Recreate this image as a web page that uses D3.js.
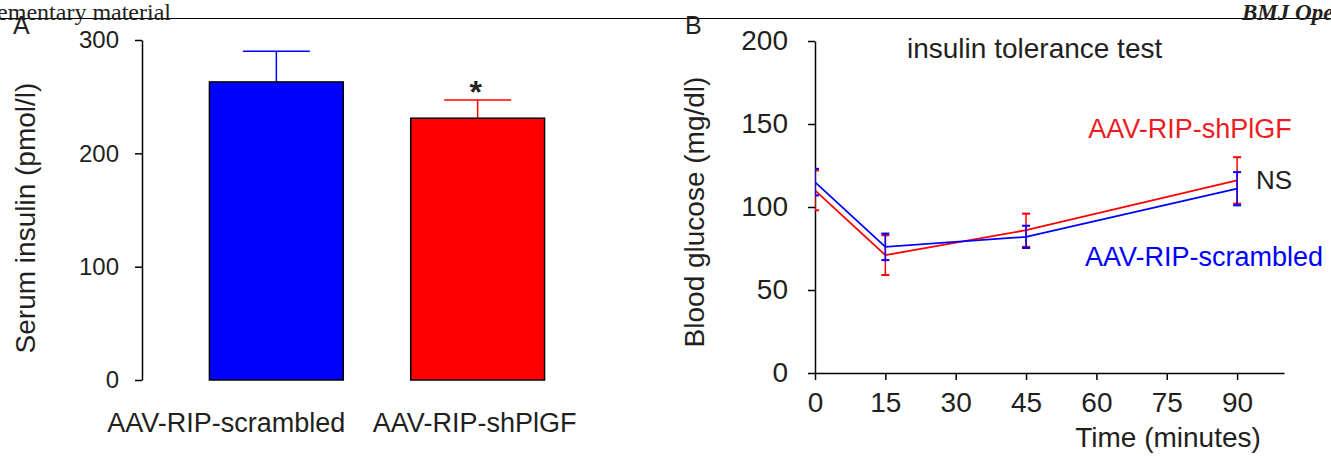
<!DOCTYPE html>
<html>
<head>
<meta charset="utf-8">
<script src="https://cdn.jsdelivr.net/npm/d3@7"></script>
<style>
  body { margin: 0; background: #fff; }
  svg { display: block; font-family: "Liberation Sans", Arial, sans-serif; }
</style>
</head>
<body>
<svg id="chart" width="1331" height="458"></svg>
<script>
// Panel A: serum insulin bars
const groups = ["AAV-RIP-scrambled", "AAV-RIP-shPlGF"];
const insulinMean = [263, 231];
const insulinErr = [27, 16];
const insulinTicks = [0, 100, 200, 300];
const groupColors = ["#0000ff", "#ff0000"];

// Panel B: insulin tolerance test
const timePoints = [0, 15, 45, 90];
const scrambledMean = [115, 76, 82, 111];
const scrambledErr = [8, 8, 6.7, 10];
const shPlGFMean = [110, 71, 86, 116];
const shPlGFErr = [12, 12, 10, 14];
const timeTicks = [0, 15, 30, 45, 60, 75, 90];
const glucoseTicks = [0, 50, 100, 150, 200];

const ink = "#231f20";
const svg = d3.select("#chart");

// page header (cropped by the page edges, as in the source)
svg.append("line")
  .attr("x1", 0).attr("x2", 1331).attr("y1", 18.5).attr("y2", 18.5)
  .attr("stroke", "#000").attr("stroke-width", 1);
svg.append("text")
  .attr("x", 171).attr("y", 20).attr("text-anchor", "end")
  .attr("font-family", "Liberation Serif, serif").attr("font-size", 24)
  .attr("fill", ink).text("Supplementary material");
svg.append("text")
  .attr("x", 1242).attr("y", 20)
  .attr("font-family", "Liberation Serif, serif").attr("font-size", 23)
  .attr("font-style", "italic").attr("font-weight", "bold")
  .attr("fill", ink).text("BMJ Open");

// ---------- Panel A ----------
const yA = d3.scaleLinear().domain([0, 300]).range([380, 40]);
const xA = d3.scaleBand().domain(groups).range([142, 612]).padding(0.335);

const gA = svg.append("g");
gA.append("g")
  .attr("transform", "translate(142,0)")
  .call(d3.axisLeft(yA).tickValues(insulinTicks).tickSize(7).tickPadding(16).tickSizeOuter(0))
  .call(g => g.selectAll("line, path").attr("stroke", "#000").attr("stroke-width", 1.5))
  .call(g => g.selectAll("text").attr("font-size", 24).attr("fill", ink)
    .attr("font-family", "Liberation Sans, Arial, sans-serif"));

const barData = groups.map((g, i) => ({ g, mean: insulinMean[i], err: insulinErr[i], color: groupColors[i] }));

gA.selectAll(".errA").data(barData).enter().append("g")
  .each(function(d) {
    const cx = xA(d.g) + xA.bandwidth() / 2;
    const sel = d3.select(this);
    sel.append("line").attr("x1", cx).attr("x2", cx)
      .attr("y1", yA(d.mean)).attr("y2", yA(d.mean + d.err))
      .attr("stroke", d.color).attr("stroke-width", 1.5);
    sel.append("line").attr("x1", cx - xA.bandwidth() / 4).attr("x2", cx + xA.bandwidth() / 4)
      .attr("y1", yA(d.mean + d.err)).attr("y2", yA(d.mean + d.err))
      .attr("stroke", d.color).attr("stroke-width", 1.5);
  });

gA.selectAll(".bar").data(barData).enter().append("rect")
  .attr("x", d => xA(d.g))
  .attr("y", d => yA(d.mean))
  .attr("width", xA.bandwidth())
  .attr("height", d => yA(0) - yA(d.mean))
  .attr("fill", d => d.color)
  .attr("stroke", "#000").attr("stroke-width", 1.5);

// significance star on shPlGF bar
gA.append("text")
  .attr("x", xA(groups[1]) + xA.bandwidth() / 2 - 2)
  .attr("y", yA(insulinMean[1] + insulinErr[1]) + 3)
  .attr("text-anchor", "middle").attr("font-size", 32).attr("font-weight", "bold")
  .attr("fill", ink).text("*");

const labelShift = [-50, -3];
gA.selectAll(".catA").data(groups).enter().append("text")
  .attr("x", (d, i) => xA(d) + xA.bandwidth() / 2 + labelShift[i])
  .attr("y", 432)
  .attr("text-anchor", "middle").attr("font-size", 27).attr("fill", ink)
  .text(d => d);

gA.append("text")
  .attr("transform", "translate(35,218) rotate(-90)")
  .attr("text-anchor", "middle").attr("font-size", 28).attr("fill", ink)
  .text("Serum insulin (pmol/l)");

svg.append("text").attr("x", 13).attr("y", 34).attr("font-size", 25).attr("fill", ink).text("A");

// ---------- Panel B ----------
const xB = d3.scaleLinear().domain([0, 100]).range([815, 1284]);
const yB = d3.scaleLinear().domain([0, 200]).range([373, 41]);

const gB = svg.append("g");
gB.append("g")
  .attr("transform", "translate(0,373)")
  .call(d3.axisBottom(xB).tickValues(timeTicks).tickSize(7).tickPadding(12).tickSizeOuter(0))
  .call(g => g.selectAll("line, path").attr("stroke", "#000").attr("stroke-width", 1.5))
  .call(g => g.selectAll("text").attr("font-size", 28).attr("fill", ink)
    .attr("font-family", "Liberation Sans, Arial, sans-serif"));

gB.append("g")
  .attr("transform", "translate(815,0)")
  .call(d3.axisLeft(yB).tickValues(glucoseTicks).tickSize(7).tickPadding(20).tickSizeOuter(0))
  .call(g => g.selectAll("line, path").attr("stroke", "#000").attr("stroke-width", 1.5))
  .call(g => g.selectAll("text").attr("font-size", 28).attr("fill", ink)
    .attr("font-family", "Liberation Sans, Arial, sans-serif"));

svg.append("defs").append("clipPath").attr("id", "plotB")
  .append("rect").attr("x", 815).attr("y", 0).attr("width", 500).attr("height", 380);

const series = [
  { name: "AAV-RIP-shPlGF", color: "#ff0000", mean: shPlGFMean, err: shPlGFErr },
  { name: "AAV-RIP-scrambled", color: "#0000ff", mean: scrambledMean, err: scrambledErr }
];

const line = d3.line().x(d => xB(d.t)).y(d => yB(d.m));
const plot = gB.append("g").attr("clip-path", "url(#plotB)");

series.forEach(s => {
  const pts = timePoints.map((t, i) => ({ t, m: s.mean[i], e: s.err[i] }));
  plot.append("path").datum(pts)
    .attr("d", line).attr("fill", "none")
    .attr("stroke", s.color).attr("stroke-width", 1.8);
  const eb = plot.selectAll(null).data(pts).enter().append("g");
  eb.append("line")
    .attr("x1", d => xB(d.t)).attr("x2", d => xB(d.t))
    .attr("y1", d => yB(d.m - d.e)).attr("y2", d => yB(d.m + d.e))
    .attr("stroke", s.color).attr("stroke-width", 1.5);
  [1, -1].forEach(sign => {
    eb.append("line")
      .attr("x1", d => xB(d.t) - 4).attr("x2", d => xB(d.t) + 4)
      .attr("y1", d => yB(d.m + sign * d.e)).attr("y2", d => yB(d.m + sign * d.e))
      .attr("stroke", s.color).attr("stroke-width", 2);
  });
});

gB.append("text").attr("x", 1190).attr("y", 138).attr("text-anchor", "middle")
  .attr("font-size", 27).attr("fill", "#ed1c24").text("AAV-RIP-shPlGF");
gB.append("text").attr("x", 1085).attr("y", 266)
  .attr("font-size", 27).attr("fill", "#0000ff").text("AAV-RIP-scrambled");
gB.append("text").attr("x", 1256).attr("y", 189)
  .attr("font-size", 26).attr("fill", ink).text("NS");

gB.append("text").attr("x", 907).attr("y", 58)
  .attr("font-size", 28).attr("fill", ink).text("insulin tolerance test");

gB.append("text").attr("x", 1168).attr("y", 447).attr("text-anchor", "middle")
  .attr("font-size", 28).attr("fill", ink).text("Time (minutes)");

gB.append("text")
  .attr("transform", "translate(704,212) rotate(-90)")
  .attr("text-anchor", "middle").attr("font-size", 28).attr("fill", ink)
  .text("Blood glucose (mg/dl)");

svg.append("text").attr("x", 685).attr("y", 34).attr("font-size", 25).attr("fill", ink).text("B");
</script>
</body>
</html>
